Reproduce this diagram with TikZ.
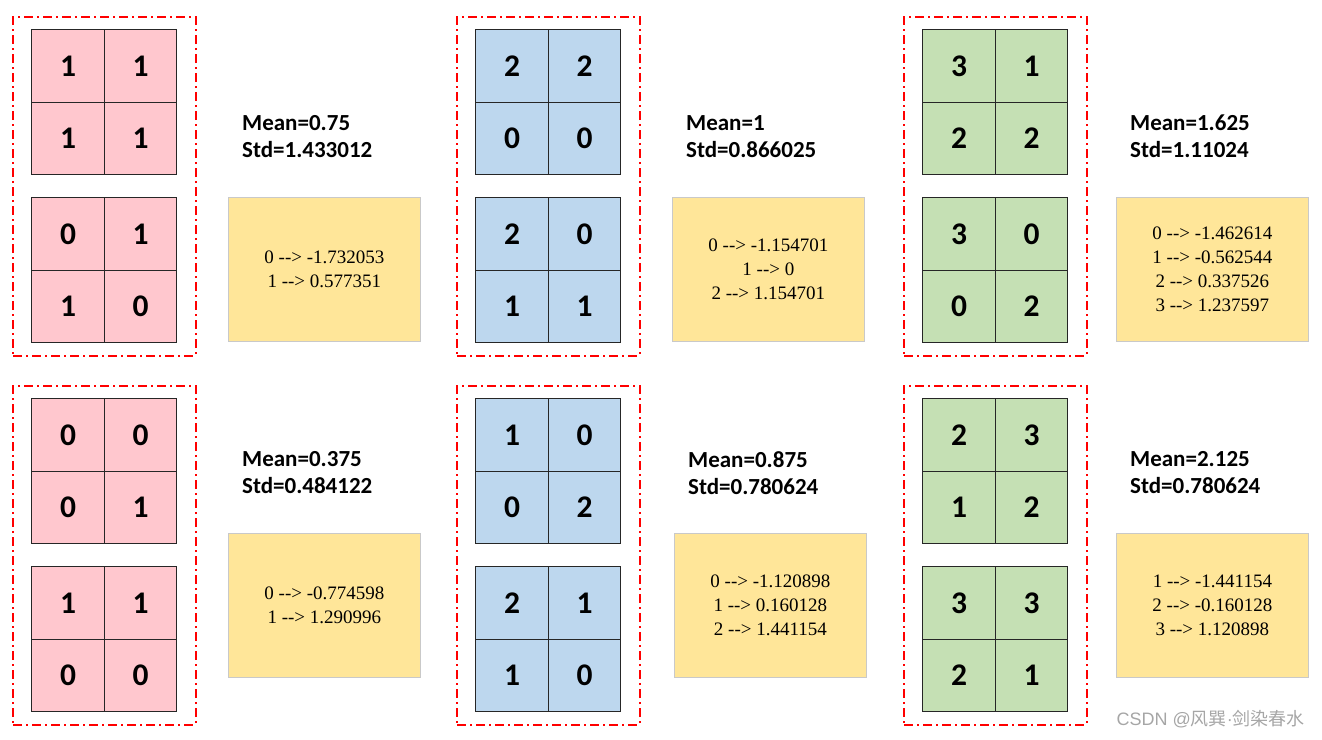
\documentclass[tikz,border=0pt]{standalone}
\usepackage{fontspec}
\setmainfont{Carlito}
\newfontfamily\mapfont{Liberation Serif}[Ligatures=TeXOff]
\newfontfamily\marklatin{Liberation Sans}
\newfontfamily\cjk{Noto Sans CJK SC}
\usetikzlibrary{matrix}
\usetikzlibrary{fit}
\definecolor{cellpink}{HTML}{FFC7CE}
\definecolor{cellblue}{HTML}{BDD7EE}
\definecolor{cellgreen}{HTML}{C5E0B4}
\definecolor{mapyellow}{HTML}{FFE699}
\definecolor{mapedge}{HTML}{C9C9C9}
\definecolor{markgray}{HTML}{A6A6A6}
\definecolor{boxred}{HTML}{FF0000}
\tikzset{
  cellgrid/.style={matrix of nodes, anchor=north west, inner sep=0pt,
    column sep=-1.2pt, row sep=-1.2pt,
    nodes={draw=black!85, line width=1.2pt, minimum size=72.5pt, inner sep=0pt,
      anchor=center, font=\bfseries\fontsize{31.5}{36}\selectfont}},
  pinkcell/.style={nodes={fill=cellpink}},
  bluecell/.style={nodes={fill=cellblue}},
  greencell/.style={nodes={fill=cellgreen}},
  groupbox/.style={draw=boxred, line width=1.8pt, dash pattern=on 9pt off 4pt on 2pt off 4pt,
    inner xsep=18pt, inner ysep=12pt},
  stat/.style={anchor=north west, inner sep=0pt, align=left,
    font=\bfseries\fontsize{23}{27}\selectfont},
  mapbox/.style={anchor=north west, minimum width=192pt, minimum height=144pt,
    fill=mapyellow, draw=mapedge, line width=0.8pt, align=center,
    font=\mapfont\fontsize{19}{24}\selectfont}
}

\begin{document}
\begin{tikzpicture}[x=1pt,y=-1pt]
  \useasboundingbox (0,0) rectangle (1322,739);
  \matrix (pink1a) [cellgrid, pinkcell] at (31,29) {1 & 1 \\ 1 & 1 \\};
  \matrix (pink1b) [cellgrid, pinkcell] at (31,197) {0 & 1 \\ 1 & 0 \\};
  \matrix (blue1a) [cellgrid, bluecell] at (475,29) {2 & 2 \\ 0 & 0 \\};
  \matrix (blue1b) [cellgrid, bluecell] at (475,197) {2 & 0 \\ 1 & 1 \\};
  \matrix (green1a) [cellgrid, greencell] at (922,29) {3 & 1 \\ 2 & 2 \\};
  \matrix (green1b) [cellgrid, greencell] at (922,197) {3 & 0 \\ 0 & 2 \\};
  \matrix (pink2a) [cellgrid, pinkcell] at (31,398) {0 & 0 \\ 0 & 1 \\};
  \matrix (pink2b) [cellgrid, pinkcell] at (31,566) {1 & 1 \\ 0 & 0 \\};
  \matrix (blue2a) [cellgrid, bluecell] at (475,398) {1 & 0 \\ 0 & 2 \\};
  \matrix (blue2b) [cellgrid, bluecell] at (475,566) {2 & 1 \\ 1 & 0 \\};
  \matrix (green2a) [cellgrid, greencell] at (922,398) {2 & 3 \\ 1 & 2 \\};
  \matrix (green2b) [cellgrid, greencell] at (922,566) {3 & 3 \\ 2 & 1 \\};

  \node[groupbox, fit=(pink1a)(pink1b)] (pink1) {};
  \node[groupbox, fit=(blue1a)(blue1b)] (blue1) {};
  \node[groupbox, fit=(green1a)(green1b)] (green1) {};
  \node[groupbox, fit=(pink2a)(pink2b)] (pink2) {};
  \node[groupbox, fit=(blue2a)(blue2b)] (blue2) {};
  \node[groupbox, fit=(green2a)(green2b)] (green2) {};

  \node[stat] (pink1stat) at (242,115) {Mean=0.75\\Std=1.433012};
  \node[stat] (blue1stat) at (686,115) {Mean=1\\Std=0.866025};
  \node[stat] (green1stat) at (1130,115) {Mean=1.625\\Std=1.11024};
  \node[stat] (pink2stat) at (242,451) {Mean=0.375\\Std=0.484122};
  \node[stat] (blue2stat) at (688,451) {Mean=0.875\\Std=0.780624};
  \node[stat] (green2stat) at (1130,451) {Mean=2.125\\Std=0.780624};

  \node[mapbox] (pink1map) at (228,197) {0 --> -1.732053\\1 --> 0.577351};
  \node[mapbox] (blue1map) at (672,197) {0 --> -1.154701\\1 --> 0\\2 --> 1.154701};
  \node[mapbox] (green1map) at (1116,197) {0 --> -1.462614\\1 --> -0.562544\\2 --> 0.337526\\3 --> 1.237597};
  \node[mapbox] (pink2map) at (228,533) {0 --> -0.774598\\1 --> 1.290996};
  \node[mapbox] (blue2map) at (674,533) {0 --> -1.120898\\1 --> 0.160128\\2 --> 1.441154};
  \node[mapbox] (green2map) at (1116,533) {1 --> -1.441154\\2 --> -0.160128\\3 --> 1.120898};

  \node[anchor=base east, inner sep=0pt, text=markgray, font=\cjk\fontsize{18}{18}\selectfont] (mark) at (1305,725) {{\marklatin CSDN @}风巽{\marklatin ·}剑染春水};
\end{tikzpicture}
\end{document}
